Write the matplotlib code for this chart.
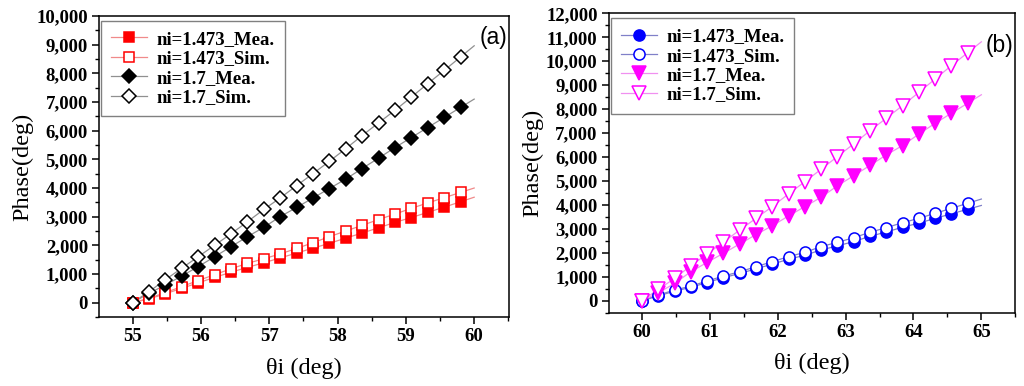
import numpy as np
import matplotlib
matplotlib.use("Agg")
import matplotlib.pyplot as plt
from matplotlib.ticker import MultipleLocator, StrMethodFormatter

plt.rcParams["font.family"] = ["Liberation Serif", "DejaVu Serif"]

# ---- data ----
theta_a = [55.0, 55.24, 55.48, 55.72, 55.96, 56.2, 56.44, 56.68, 56.92, 57.16, 57.4,
           57.64, 57.88, 58.12, 58.36, 58.6, 58.84, 59.08, 59.32, 59.56, 59.8]
a_147_mea = [0, 130, 310, 500, 690, 880, 1060, 1230, 1390, 1560, 1730,
             1900, 2070, 2250, 2430, 2610, 2800, 2970, 3150, 3330, 3520]
a_147_sim = [0, 150, 350, 560, 770, 975, 1180, 1370, 1530, 1700, 1890,
             2090, 2300, 2500, 2695, 2900, 3090, 3290, 3480, 3660, 3845]
a_17_mea = [0, 325, 615, 930, 1254, 1600, 1950, 2300, 2625, 3000, 3320,
            3650, 3980, 4310, 4680, 5040, 5410, 5760, 6110, 6460, 6810]
a_17_sim = [0, 380, 800, 1200, 1600, 2000, 2400, 2820, 3250, 3650, 4080,
            4500, 4930, 5370, 5830, 6270, 6710, 7170, 7640, 8100, 8570]

theta_b = [60.0, 60.24, 60.48, 60.72, 60.96, 61.2, 61.44, 61.68, 61.92, 62.16, 62.4,
           62.64, 62.88, 63.12, 63.36, 63.6, 63.84, 64.08, 64.32, 64.56, 64.8]
b_147_mea = [0, 200, 400, 560, 760, 960, 1140, 1330, 1530, 1730, 1900,
             2120, 2290, 2470, 2690, 2870, 3070, 3240, 3440, 3630, 3820]
b_147_sim = [0, 237, 445, 610, 820, 1030, 1210, 1420, 1630, 1840, 2020,
             2260, 2440, 2630, 2860, 3050, 3260, 3440, 3650, 3860, 4070]
b_17_mea = [0, 330, 720, 1210, 1600, 1980, 2370, 2760, 3130, 3540, 3930,
            4320, 4800, 5220, 5650, 6090, 6480, 6960, 7410, 7830, 8250]
b_17_sim = [0, 470, 930, 1460, 1950, 2450, 2950, 3440, 3930, 4460, 4970,
            5490, 6020, 6550, 7100, 7620, 8150, 8700, 9260, 9820, 10360]

labels_a = ["ni=1.473_Mea.", "ni=1.473_Sim.", "ni=1.7_Mea.", "ni=1.7_Sim."]
labels_b = ["ni=1.473_Mea.", "ni=1.473_Sim.", "ni=1.7_Mea.", "ni=1.7_Sim."]


def extend(x, y, x_end):
    # connecting line, carried on to the axis end with the last slope
    x = np.asarray(x, float)
    y = np.asarray(y, float)
    slope = (y[-1] - y[-2]) / (x[-1] - x[-2])
    return np.append(x, x_end), np.append(y, y[-1] + slope * (x_end - x[-1]))


def draw_series(ax, x, y, x_end, marker, color, line_color, filled, ms, label):
    lx, ly = extend(x, y, x_end)
    ax.plot(lx, ly, "-", color=line_color, lw=0.9, zorder=2)
    ax.plot(x, y, linestyle="none", marker=marker, ms=ms,
            mfc=color if filled else "white", mec=color, mew=1.1, zorder=3)
    # proxy for legend: marker with line through it
    ax.plot([], [], "-", color=line_color, lw=0.9, marker=marker, ms=ms,
            mfc=color if filled else "white", mec=color, mew=1.1, label=label)


def style_axes(ax, xlim, ylim, xmajor, ymajor, yminor):
    ax.set_xlim(*xlim)
    ax.set_ylim(*ylim)
    ax.xaxis.set_major_locator(MultipleLocator(xmajor))
    ax.xaxis.set_minor_locator(MultipleLocator(xmajor / 2))
    ax.yaxis.set_major_locator(MultipleLocator(ymajor))
    ax.yaxis.set_minor_locator(MultipleLocator(yminor))
    ax.yaxis.set_major_formatter(StrMethodFormatter("{x:,.0f}"))
    ax.tick_params(which="major", direction="out", length=5, width=1.1,
                   labelsize=13.5, pad=3)
    ax.tick_params(which="minor", direction="out", length=3, width=1.0)
    ax.tick_params(top=False, right=False, which="both")
    for lab in ax.get_xticklabels() + ax.get_yticklabels():
        lab.set_fontweight("bold")
    for sp in ax.spines.values():
        sp.set_linewidth(1.1)
    ax.set_xlabel("\u03b8i (deg)", fontsize=17.5, labelpad=9)
    ax.set_ylabel("Phase(deg)", fontsize=17.5, labelpad=2)


fig = plt.figure(figsize=(10.24, 3.86), dpi=100)
ax_a = fig.add_axes([0.0967, 0.1788, 0.4004, 0.7797])
ax_b = fig.add_axes([0.5944, 0.1899, 0.3971, 0.7756])

# panel (a)
draw_series(ax_a, theta_a, a_147_mea, 60, "s", "#ff0000", "#f08a8a", True, 7.5, labels_a[0])
draw_series(ax_a, theta_a, a_147_sim, 60, "s", "#ff0000", "#f08a8a", False, 7.5, labels_a[1])
draw_series(ax_a, theta_a, a_17_mea, 60, "D", "black", "#909090", True, 7.3, labels_a[2])
draw_series(ax_a, theta_a, a_17_sim, 60, "D", "black", "#909090", False, 7.3, labels_a[3])
style_axes(ax_a, (54.51, 60.51), (-500, 10000), 1, 1000, 500)
ax_a.text(0.995, 0.93, "(a)", transform=ax_a.transAxes, ha="right", va="center",
          fontsize=16.5, family="Liberation Sans")

# panel (b)
draw_series(ax_b, theta_b, b_147_mea, 65, "o", "#0000ff", "#8080c8", True, 8, labels_b[0])
draw_series(ax_b, theta_b, b_147_sim, 65, "o", "#0000ff", "#8080c8", False, 8, labels_b[1])
draw_series(ax_b, theta_b, b_17_mea, 65, "v", "#ff00ff", "#f090f0", True, 9.5, labels_b[2])
draw_series(ax_b, theta_b, b_17_sim, 65, "v", "#ff00ff", "#f090f0", False, 9.5, labels_b[3])
style_axes(ax_b, (59.51, 65.5), (-500, 12000), 1, 1000, 500)
ax_b.text(0.995, 0.894, "(b)", transform=ax_b.transAxes, ha="right", va="center",
          fontsize=16.5, family="Liberation Sans")

for ax in (ax_a, ax_b):
    leg = ax.legend(loc="upper left", bbox_to_anchor=(0.005, 0.985), fancybox=False,
                    frameon=True, framealpha=1, edgecolor="#808080",
                    prop={"weight": "bold", "size": 13.5}, handlelength=1.9,
                    handletextpad=0.5, labelspacing=0.12, borderpad=0.55,
                    borderaxespad=0.0)
    leg.get_frame().set_linewidth(1.0)

fig.savefig("out.png", dpi=100)
